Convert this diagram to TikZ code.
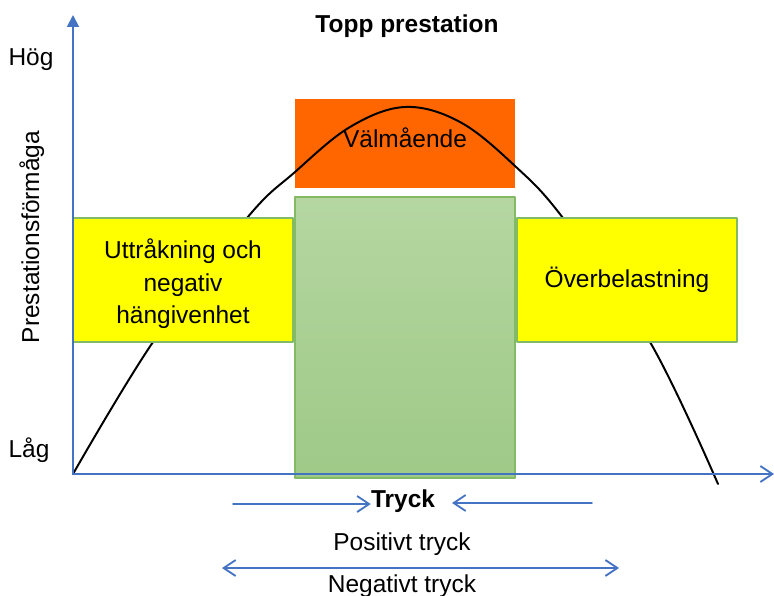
\documentclass[tikz,border=0pt]{standalone}
\usepackage{fontspec}
\setmainfont{Liberation Sans}
\usetikzlibrary{arrows,arrows.meta}
\definecolor{ffuuqq}{rgb}{1,0.4,0}
\definecolor{ffffqq}{rgb}{1,1,0}
\definecolor{ttiect}{rgb}{0.27,0.45,0.77}
\definecolor{btduaq}{rgb}{0.71,0.84,0.63}
\definecolor{pdcooi}{rgb}{0.62,0.79,0.53}
\definecolor{oebauu}{rgb}{0.51,0.73,0.40}

\tikzset{
  fbox/.style={minimum width=5.5cm,inner sep=0pt,align=center},
  gulbox/.style={fbox,draw=oebauu,line width=1pt,fill=ffffqq,minimum height=3.1cm},
  axel/.style={color=ttiect,line width=1.3pt},
  pil/.style={color=ttiect,line width=1.3pt,>={Straight Barb[length=3mm,width=4mm]}}
}

\begin{document}
\fontsize{17.4}{23}\selectfont
\begin{tikzpicture}[line cap=round,line join=round,x=0.025cm,y=-0.025cm]
\useasboundingbox (0,0) rectangle (774,596);
%\draw[help lines,step=50] (0,0) grid (774,596);
\node[fbox,fill=ffuuqq,minimum height=2.225cm] (valm) at (405,143.5) {};
\draw [line width=1.4pt] plot[smooth,tension=0.6] coordinates {(73,474) (153,342) (247,218) (295,172) (350,127) (405,107) (460,122) (515,166) (563,218) (650,342) (718,484)};
\node[anchor=base,inner sep=0pt] (valmtxt) at (405,148) {Välmående};
\node[fbox,draw=oebauu,line width=1pt,top color=btduaq,bottom color=pdcooi,minimum height=7.025cm] (zon) at (405,337.5) {};
\node[gulbox] (uttr) at (183,280) {};
\node[align=center,inner sep=0pt] (uttrtxt) at (183,284) {Uttråkning och\\negativ\\hängivenhet};
\node[gulbox] (overb) at (627,280) {\raisebox{0.15em}{Överbelastning}};
% axlar
\coordinate (O) at (73,474);
\coordinate (ytop) at (73,15);
\coordinate (xend) at (774,474);
\draw [axel,-{Triangle[length=3mm,width=3mm]}] (O) -- (ytop);
\draw [axel,-{Straight Barb[length=3mm,width=4mm]}] (O) -- (xend);
% texter
\node[anchor=base,inner sep=0pt] (hog) at (31,66) {Hög};
\node[anchor=base,inner sep=0pt] (lag) at (29,457) {Låg};
\node[anchor=base,inner sep=0pt,rotate=90] (presta) at (39,237) {Prestationsförmåga};
\node[anchor=base,inner sep=0pt,font=\bfseries] (topp) at (407,33) {Topp prestation};
\node[anchor=base,inner sep=0pt,font=\bfseries] (tryck) at (403,507) {Tryck};
\node[anchor=base,inner sep=0pt] (pos) at (402,550) {Positivt tryck};
\node[anchor=base,inner sep=0pt] (neg) at (402,592) {Negativt tryck};
% pilar
\coordinate (pa) at (233,504);
\coordinate (pc) at (452,503);
\coordinate (pb) at (592,503);
\coordinate (na) at (222,568);
\coordinate (nb) at (619,568);
\draw [pil,->] (pa) -- (pa -| tryck.west);
\draw [pil,->] (pb) -- (pc);
\draw [pil,<->] (na) -- (nb);
\end{tikzpicture}
\end{document}
